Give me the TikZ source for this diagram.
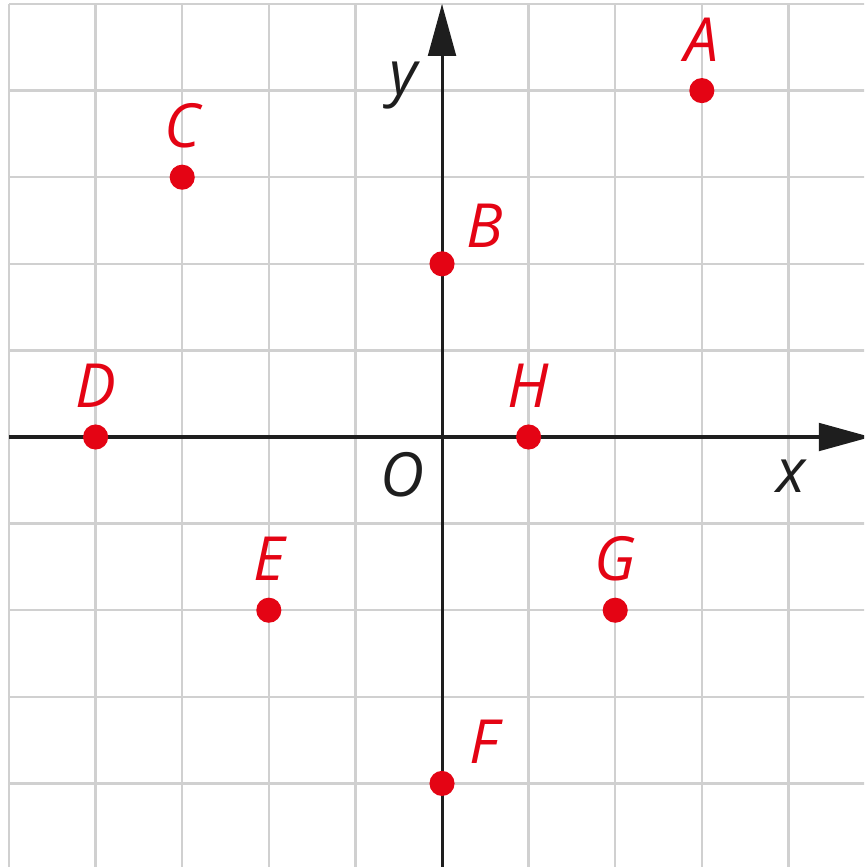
\documentclass[tikz,border=0pt]{standalone}
\usepackage{fontspec}
\setmainfont{Open Sans}
\usetikzlibrary{
  arrows.meta,   % 坐标轴三角箭头
  positioning    % 字母标签相对点定位
}
\definecolor{ptred}{RGB}{228,4,20}
\definecolor{axisblack}{RGB}{30,30,30}
\definecolor{gridgray}{RGB}{208,208,208}
\tikzset{
  grid line/.style={
    draw=gridgray,
    line width=0.8pt
  },
  axis line/.style={
    -{Triangle[length=0.6cm,width=0.32cm]},
    draw=axisblack,
    line width=1pt
  },
  point dot/.style={
    circle,
    fill=ptred,
    inner sep=0pt,
    minimum size=0.29cm
  },
  point label/.style={
    text=ptred,
    inner sep=0pt,
    font=\fontsize{20}{24}\selectfont\itshape
  },
  axis label/.style={
    text=axisblack,
    inner sep=0pt,
    font=\fontsize{20}{24}\selectfont\itshape
  }
}

\begin{document}
\begin{tikzpicture}
    % 画面范围（右侧与下侧网格被截去一部分）
    \clip (-5.104,-4.965) rectangle (4.873,5.046);
    \fill[white] (-5.104,-4.965) rectangle (4.873,5.046);

    % 方格纸
    \draw[grid line] (-5,-5) grid (5,5);

    % 坐标轴
    \coordinate (xstart) at (-5,0);
    \coordinate (xend) at (4.95,0);
    \coordinate (ystart) at (0,-5.2);
    \coordinate (yend) at (0,5);
    \draw[axis line] (xstart) -- (xend);
    \draw[axis line] (ystart) -- (yend);

    % 轴名与原点
    \node[axis label, anchor=base] (xname) at (4.03,-0.635) {x};
    \node[axis label, anchor=base] (yname) at (-0.44,3.95) {y};
    \node[axis label, anchor=base] (origin) at (-0.46,-0.69) {O};

    % 各点
    \node[point dot] (A) at (3,4) {};
    \node[point dot] (B) at (0,2) {};
    \node[point dot] (C) at (-3,3) {};
    \node[point dot] (D) at (-4,0) {};
    \node[point dot] (E) at (-2,-2) {};
    \node[point dot] (F) at (0,-4) {};
    \node[point dot] (G) at (2,-2) {};
    \node[point dot] (H) at (1,0) {};

    % 点的字母
    \node[point label, above=0.18cm of A] (lA) {A};
    \node[point label, above right=0.07cm and 0.17cm of B] (lB) {B};
    \node[point label, above=0.18cm of C] (lC) {C};
    \node[point label, above=0.18cm of D] (lD) {D};
    \node[point label, above=0.18cm of E] (lE) {E};
    \node[point label, above right=0.11cm and 0.2cm of F] (lF) {F};
    \node[point label, above=0.18cm of G] (lG) {G};
    \node[point label, above=0.18cm of H] (lH) {H};

  \end{tikzpicture}
\end{document}
